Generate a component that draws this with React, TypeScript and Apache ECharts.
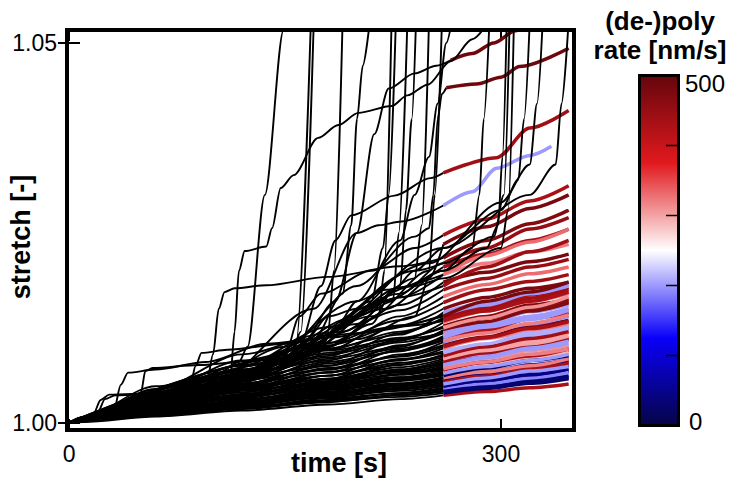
import React, { useEffect, useRef } from "react";
import * as echarts from "echarts";

// ---------- data ----------
const bundleTimes = [0, 10, 60, 120, 180, 230, 260];
const tailTimes = [260, 290, 320, 347];

const bundleStretch: number[][] = [
  [1, 1.0001, 1.0008, 1.0016, 1.0024, 1.0031, 1.0036],
  [1, 1.0002, 1.0009, 1.0020, 1.0027, 1.0037, 1.0042],
  [1, 1.0002, 1.0012, 1.0019, 1.0032, 1.0039, 1.0046],
  [1, 1.0002, 1.0010, 1.0024, 1.0033, 1.0045, 1.0050],
  [1, 1.0002, 1.0014, 1.0023, 1.0037, 1.0046, 1.0053],
  [1, 1.0003, 1.0012, 1.0028, 1.0036, 1.0050, 1.0056],
  [1, 1.0003, 1.0016, 1.0026, 1.0043, 1.0052, 1.0060],
  [1, 1.0002, 1.0013, 1.0031, 1.0041, 1.0057, 1.0063],
  [1, 1.0003, 1.0018, 1.0029, 1.0047, 1.0058, 1.0067],
  [1, 1.0003, 1.0015, 1.0035, 1.0046, 1.0064, 1.0070],
  [1, 1.0003, 1.0019, 1.0032, 1.0053, 1.0064, 1.0074],
  [1, 1.0004, 1.0017, 1.0038, 1.0050, 1.0070, 1.0078],
  [1, 1.0004, 1.0022, 1.0034, 1.0057, 1.0070, 1.0082],
  [1, 1.0003, 1.0019, 1.0042, 1.0054, 1.0077, 1.0086],
  [1, 1.0004, 1.0024, 1.0037, 1.0062, 1.0076, 1.0090],
  [1, 1.0004, 1.0020, 1.0045, 1.0058, 1.0084, 1.0094],
  [1, 1.0005, 1.0026, 1.0040, 1.0067, 1.0082, 1.0098],
  [1, 1.0004, 1.0022, 1.0048, 1.0062, 1.0090, 1.0102],
  [1, 1.0005, 1.0028, 1.0044, 1.0072, 1.0088, 1.0106],
  [1, 1.0005, 1.0024, 1.0052, 1.0066, 1.0096, 1.0110],
  [1, 1.0005, 1.0030, 1.0047, 1.0078, 1.0094, 1.0114],
  [1, 1.0005, 1.0026, 1.0056, 1.0070, 1.0102, 1.0118],
  [1, 1.0006, 1.0032, 1.0050, 1.0084, 1.0100, 1.0122],
  [1, 1.0005, 1.0028, 1.0060, 1.0075, 1.0110, 1.0127],
  [1, 1.0006, 1.0035, 1.0054, 1.0090, 1.0108, 1.0132],
  [1, 1.0006, 1.0030, 1.0064, 1.0082, 1.0118, 1.0138],
  [1, 1.0006, 1.0038, 1.0058, 1.0098, 1.0116, 1.0145],
  [1, 1.0006, 1.0033, 1.0070, 1.0088, 1.0128, 1.0150],
  [1, 1.0007, 1.0040, 1.0063, 1.0105, 1.0135, 1.0158],
  [1, 1.0006, 1.0036, 1.0076, 1.0096, 1.0140, 1.0166],
  [1, 1.0007, 1.0044, 1.0068, 1.0115, 1.0148, 1.0175],
  [1, 1.0007, 1.0040, 1.0082, 1.0105, 1.0155, 1.0185],
  [1, 1.0008, 1.0048, 1.0075, 1.0126, 1.0165, 1.0195],
  [1, 1.0007, 1.0044, 1.0090, 1.0118, 1.0178, 1.0205],
  [1, 1.0002, 1.0009, 1.0018, 1.0028, 1.0034, 1.0039],
  [1, 1.0002, 1.0011, 1.0021, 1.0030, 1.0039, 1.0044],
  [1, 1.0003, 1.0013, 1.0022, 1.0034, 1.0042, 1.0048],
  [1, 1.0002, 1.0011, 1.0025, 1.0038, 1.0048, 1.0055],
  [1, 1.0003, 1.0015, 1.0027, 1.0040, 1.0051, 1.0058],
  [1, 1.0003, 1.0014, 1.0030, 1.0045, 1.0057, 1.0065],
  [1, 1.0004, 1.0017, 1.0033, 1.0049, 1.0063, 1.0072],
  [1, 1.0003, 1.0020, 1.0036, 1.0052, 1.0068, 1.0080],
  [1, 1.0002, 1.0010, 1.0019, 1.0029, 1.0036, 1.0041],
  [1, 1.0003, 1.0012, 1.0023, 1.0035, 1.0044, 1.0051],
  [1, 1.0003, 1.0014, 1.0026, 1.0039, 1.0049, 1.0059],
  [1, 1.0003, 1.0016, 1.0029, 1.0044, 1.0055, 1.0062],
  [1, 1.0004, 1.0018, 1.0033, 1.0048, 1.0060, 1.0069],
  [1, 1.0004, 1.0020, 1.0037, 1.0055, 1.0067, 1.0076],
  [1, 1.0004, 1.0021, 1.0040, 1.0058, 1.0073, 1.0084],
  [1, 1.0004, 1.0023, 1.0043, 1.0062, 1.0079, 1.0088],
  [1, 1.0005, 1.0025, 1.0045, 1.0066, 1.0083, 1.0092],
  [1, 1.0005, 1.0027, 1.0049, 1.0070, 1.0087, 1.0100],
  [1, 1.0005, 1.0027, 1.0051, 1.0075, 1.0095, 1.0108],
  [1, 1.0006, 1.0031, 1.0055, 1.0080, 1.0098, 1.0112],
  [1, 1.0006, 1.0033, 1.0058, 1.0086, 1.0106, 1.0120],
  [1, 1.0006, 1.0034, 1.0062, 1.0092, 1.0112, 1.0125],
  [1, 1.0006, 1.0036, 1.0066, 1.0096, 1.0120, 1.0136],
  [1, 1.0007, 1.0038, 1.0070, 1.0102, 1.0128, 1.0142],
];

const bundleTail: number[][] = [
  [1.0041, 1.0046, 1.0051],
  [1.0049, 1.0056, 1.0062],
  [1.0052, 1.0060, 1.0068],
  [1.0057, 1.0066, 1.0072],
  [1.0062, 1.0068, 1.0076],
  [1.0063, 1.0074, 1.0080],
  [1.0070, 1.0077, 1.0085],
  [1.0071, 1.0083, 1.0090],
  [1.0078, 1.0086, 1.0095],
  [1.0082, 1.0090, 1.0100],
  [1.0084, 1.0095, 1.0102],
  [1.0090, 1.0099, 1.0110],
  [1.0090, 1.0101, 1.0108],
  [1.0099, 1.0108, 1.0118],
  [1.0101, 1.0116, 1.0125],
  [1.0103, 1.0115, 1.0122],
  [1.0111, 1.0120, 1.0130],
  [1.0113, 1.0127, 1.0135],
  [1.0120, 1.0130, 1.0140],
  [1.0122, 1.0137, 1.0145],
  [1.0128, 1.0140, 1.0150],
  [1.0130, 1.0146, 1.0155],
  [1.0138, 1.0150, 1.0160],
  [1.0140, 1.0155, 1.0163],
  [1.0147, 1.0160, 1.0170],
  [1.0152, 1.0168, 1.0178],
  [1.0158, 1.0170, 1.0180],
  [1.0165, 1.0177, 1.0185],
  [1.0175, 1.0186, 1.0195],
  [1.0182, 1.0196, 1.0205],
  [1.0190, 1.0205, 1.0215],
  [1.0198, 1.0212, 1.0222],
  [1.0210, 1.0225, 1.0235],
  [1.0222, 1.0240, 1.0255],
  [1.0045, 1.0052, 1.0058],
  [1.0051, 1.0059, 1.0066],
  [1.0056, 1.0063, 1.0071],
  [1.0064, 1.0071, 1.0079],
  [1.0066, 1.0076, 1.0083],
  [1.0075, 1.0085, 1.0093],
  [1.0081, 1.0089, 1.0098],
  [1.0092, 1.0103, 1.0112],
  [1.0047, 1.0053, 1.0060],
  [1.0059, 1.0068, 1.0074],
  [1.0067, 1.0075, 1.0084],
  [1.0072, 1.0082, 1.0088],
  [1.0080, 1.0088, 1.0097],
  [1.0086, 1.0097, 1.0105],
  [1.0095, 1.0104, 1.0114],
  [1.0100, 1.0111, 1.0120],
  [1.0104, 1.0118, 1.0126],
  [1.0112, 1.0124, 1.0133],
  [1.0118, 1.0131, 1.0142],
  [1.0126, 1.0136, 1.0148],
  [1.0133, 1.0147, 1.0158],
  [1.0138, 1.0152, 1.0166],
  [1.0150, 1.0164, 1.0175],
  [1.0155, 1.0170, 1.0182],
];

const bundleRate: number[] = [
  430, 20, 45, 200, 30, 420, 210, 300, 440, 190, 310, 430, 200, 300, 450, 210, 320, 480,
  195, 420, 310, 205, 440, 470, 320, 430, 200, 475, 440, 330, 450, 480, 320, 440,
  25, 190, 40, 430, 35, 290, 210, 440,
  30, 200, 320, 15, 430, 200, 300, 440, 210, 430, 320, 200, 470, 310, 440, 200,
];

// lines with steps / meanders (black part, then coloured part)
const stepLines: number[][][] = [
  [[0, 1], [12, 1.0003], [17, 1.0012], [22, 1.003], [28, 1.0037], [60, 1.0039], [100, 1.0042], [137, 1.0046], [180, 1.0052], [230, 1.006], [260, 1.0065]],
  [[0, 1], [14, 1.0003], [20, 1.0014], [25, 1.0031], [32, 1.0036], [70, 1.004], [120, 1.0047], [180, 1.0057], [230, 1.0066], [260, 1.0071]],
  [[0, 1], [20, 1.0006], [31, 1.0015], [36, 1.005], [41, 1.0066], [60, 1.007], [95, 1.008], [137, 1.0104], [180, 1.0112], [230, 1.0127], [260, 1.0134]],
  [[0, 1], [30, 1.001], [47, 1.0017], [50, 1.004], [53, 1.0068], [58, 1.0072], [90, 1.0076], [130, 1.0082], [180, 1.0095], [230, 1.011], [260, 1.0118]],
  [[0, 1], [40, 1.0015], [80, 1.004], [84, 1.0048], [88, 1.0075], [92, 1.0092], [110, 1.0096], [150, 1.0104], [200, 1.0118], [260, 1.014]],
  [[0, 1], [40, 1.0018], [80, 1.004], [96, 1.0056], [100, 1.009], [104, 1.015], [108, 1.0172], [115, 1.0177], [137, 1.0181], [180, 1.0192], [230, 1.0206], [260, 1.0217]],
  [[0, 1], [60, 1.0025], [120, 1.0055], [150, 1.0075], [165, 1.011], [180, 1.014], [200, 1.015], [230, 1.0165], [260, 1.018]],
  [[0, 1], [60, 1.0022], [130, 1.006], [170, 1.0085], [185, 1.0125], [200, 1.016], [220, 1.0175], [260, 1.0195]],
  [[0, 1], [70, 1.003], [140, 1.007], [180, 1.01], [210, 1.013], [225, 1.0175], [240, 1.02], [260, 1.021]],
  [[0, 1], [80, 1.0035], [150, 1.008], [200, 1.011], [240, 1.014], [250, 1.019], [260, 1.0235]],
  [[0, 1], [50, 1.002], [120, 1.005], [150, 1.009], [160, 1.014], [175, 1.017], [210, 1.02], [240, 1.023], [260, 1.0247]],
  [[0, 1], [60, 1.0025], [120, 1.006], [160, 1.01], [185, 1.016], [200, 1.025], [215, 1.026], [231, 1.0265], [260, 1.0286]],
  [[0, 1], [60, 1.0022], [120, 1.0055], [160, 1.01], [175, 1.018], [185, 1.024], [196, 1.0273], [226, 1.0299], [251, 1.0322], [260, 1.0329]],
  [[0, 1], [80, 1.0035], [150, 1.01], [200, 1.018], [240, 1.0245], [250, 1.0256], [253, 1.03], [256, 1.04], [259, 1.0433], [262, 1.0441]],
  [[0, 1], [100, 1.005], [170, 1.015], [200, 1.025], [212, 1.038], [222, 1.044], [240, 1.046], [255, 1.047], [265, 1.0477]],
];

const stepTails: number[][][] = [
  [[260, 1.0065], [290, 1.0074], [320, 1.0082], [347, 1.009]],
  [[260, 1.0071], [290, 1.008], [320, 1.009], [347, 1.0097]],
  [[260, 1.0134], [290, 1.0147], [320, 1.016], [347, 1.0172]],
  [[260, 1.0118], [290, 1.0128], [320, 1.014], [347, 1.015]],
  [[260, 1.014], [290, 1.016], [320, 1.0172], [347, 1.0185]],
  [[260, 1.0217], [290, 1.024], [320, 1.0262], [347, 1.028]],
  [[260, 1.018], [290, 1.0205], [320, 1.0225], [347, 1.024]],
  [[260, 1.0195], [290, 1.022], [320, 1.0238], [347, 1.0255]],
  [[260, 1.021], [290, 1.023], [320, 1.0255], [347, 1.027]],
  [[260, 1.0235], [290, 1.0258], [320, 1.0282], [347, 1.03]],
  [[260, 1.0247], [290, 1.0268], [320, 1.0292], [347, 1.0312]],
  [[260, 1.0286], [280, 1.0304], [297, 1.0335], [320, 1.0352], [335, 1.0364]],
  [[260, 1.0329], [297, 1.0349], [320, 1.0388], [347, 1.0411]],
  [[262, 1.0441], [283, 1.0446], [300, 1.0455], [313, 1.0469], [347, 1.0493]],
  [[265, 1.0477], [280, 1.0486], [295, 1.05], [310, 1.0516], [320, 1.053]],
];

const stepRate: number[] = [200, 320, 430, 200, 480, 470, 440, 330, 450, 480, 430, 200, 440, 490, 490];

// black lines that run away (leave the top of the frame)
const runawayLines: number[][][] = [
  [[0, 1], [50, 1.002], [100, 1.005], [112, 1.006], [115, 1.012], [118, 1.02], [122, 1.0226], [137, 1.0232], [141, 1.0256], [147, 1.0309], [156, 1.0326], [173, 1.0375], [187, 1.0392], [201, 1.0408], [224, 1.0417], [235, 1.0431], [249, 1.0445], [265, 1.0476], [280, 1.0505], [292, 1.053]],
  [[0, 1], [60, 1.003], [100, 1.006], [118, 1.008], [124, 1.01], [136, 1.03], [149, 1.0517], [151, 1.055]],
  [[0, 1], [60, 1.0028], [120, 1.0065], [150, 1.0095], [158, 1.011], [168, 1.053]],
  [[0, 1], [70, 1.003], [130, 1.007], [155, 1.0095], [161, 1.012], [170, 1.053]],
  [[0, 1], [80, 1.0035], [150, 1.008], [180, 1.012], [184, 1.02], [190, 1.053]],
  [[0, 1], [100, 1.0045], [170, 1.011], [190, 1.017], [196, 1.026], [200, 1.04], [204, 1.047], [209, 1.053]],
  [[0, 1], [100, 1.0045], [180, 1.01], [215, 1.014], [219, 1.02], [224, 1.053]],
  [[0, 1], [90, 1.004], [170, 1.0105], [210, 1.016], [218, 1.023], [222, 1.03], [227, 1.053]],
  [[0, 1], [110, 1.005], [190, 1.012], [225, 1.016], [229, 1.025], [235, 1.053]],
  [[0, 1], [120, 1.0055], [200, 1.013], [230, 1.018], [234, 1.028], [238, 1.04], [241, 1.053]],
  [[0, 1], [120, 1.006], [200, 1.014], [240, 1.019], [245, 1.026], [250, 1.053]],
  [[0, 1], [130, 1.006], [210, 1.014], [250, 1.02], [254, 1.03], [259, 1.053]],
  [[0, 1], [120, 1.0055], [200, 1.016], [230, 1.024], [240, 1.03], [250, 1.035], [256, 1.042], [262, 1.05], [266, 1.053]],
  [[0, 1], [130, 1.0065], [220, 1.015], [260, 1.02], [280, 1.023], [285, 1.03], [288, 1.04], [292, 1.053]],
  [[0, 1], [130, 1.007], [220, 1.016], [260, 1.02], [290, 1.023], [298, 1.026], [301, 1.035], [304, 1.053]],
  [[0, 1], [140, 1.007], [230, 1.017], [260, 1.021], [295, 1.0245], [302, 1.03], [306, 1.053]],
  [[0, 1], [150, 1.008], [240, 1.018], [260, 1.019], [300, 1.023], [305, 1.028], [309, 1.053]],
  [[0, 1], [150, 1.008], [240, 1.02], [260, 1.023], [300, 1.028], [312, 1.032], [316, 1.04], [320, 1.053]],
  [[0, 1], [150, 1.0085], [250, 1.021], [300, 1.029], [320, 1.034], [325, 1.042], [329, 1.053]],
  [[0, 1], [160, 1.009], [260, 1.023], [320, 1.03], [338, 1.034], [342, 1.042], [347, 1.053]],
];

const xTickValues = [0, 300];
const yTickValues = [1.0, 1.05];
const colorbarTicks = [100, 200, 300, 400];
const rateMin = 0;
const rateMax = 500;

// seismic-like colour map
const cmapStops: [number, number[]][] = [
  [0, [5, 5, 70]],
  [0.25, [10, 0, 250]],
  [0.5, [255, 255, 255]],
  [0.75, [225, 25, 30]],
  [1, [100, 6, 12]],
];

function cmap(f: number): string {
  const v = Math.max(0, Math.min(1, f));
  for (let i = 1; i < cmapStops.length; i++) {
    const [f1, c1] = cmapStops[i];
    const [f0, c0] = cmapStops[i - 1];
    if (v <= f1) {
      const k = (v - f0) / (f1 - f0);
      const c = c0.map((a, j) => Math.round(a + (c1[j] - a) * k));
      return `rgb(${c[0]},${c[1]},${c[2]})`;
    }
  }
  return "rgb(100,6,12)";
}
const rateColor = (r: number) => cmap((r - rateMin) / (rateMax - rateMin));

function lineSeries(data: number[][], color: string, width: number, z: number) {
  return {
    type: "line",
    data,
    showSymbol: false,
    symbol: "none",
    smooth: 0.3,
    smoothMonotone: "x",
    silent: true,
    z,
    lineStyle: { color, width },
  };
}

export default function App() {
  const ref = useRef<HTMLDivElement>(null);
  useEffect(() => {
    if (!ref.current) return;
    const chart = echarts.init(ref.current, undefined, { renderer: "svg" });
    const series: any[] = [];
    bundleStretch.forEach((row) => {
      series.push(lineSeries(row.map((s, i) => [bundleTimes[i], s]), "#000", 1.9, 2));
    });
    stepLines.forEach((pts) => series.push(lineSeries(pts, "#000", 1.9, 2)));
    bundleTail.forEach((row, k) => {
      const start = bundleStretch[k][bundleStretch[k].length - 1];
      const data = [[tailTimes[0], start], ...row.map((s, i) => [tailTimes[i + 1], s])];
      series.push(lineSeries(data, rateColor(bundleRate[k]), 3.5, 3));
    });
    stepTails.forEach((pts, k) => series.push(lineSeries(pts, rateColor(stepRate[k]), 3.5, 3)));
    runawayLines.forEach((pts) => series.push(lineSeries(pts, "#000", 1.9, 4)));

    const font = "Liberation Sans";
    const tick = { show: true, inside: true, length: 11, lineStyle: { color: "#000", width: 2 } };

    const gradStops = [1, 0.75, 0.5, 0.25, 0].map((f, i) => ({ offset: i * 0.25, color: cmap(f) }));

    const cbTop = 75.5;
    const cbBottom = 425.5;
    const cbY = (v: number) => cbBottom - ((v - rateMin) / (rateMax - rateMin)) * (cbBottom - cbTop);

    chart.setOption({
      animation: false,
      grid: { left: 67, top: 30, width: 507, height: 400, show: false },
      xAxis: [
        {
          type: "value", min: -1.4, max: 350.7, position: "bottom",
          axisLine: { show: false }, splitLine: { show: false },
          axisTick: { ...tick, customValues: xTickValues },
          axisLabel: { customValues: xTickValues, fontSize: 23, color: "#000", fontFamily: font, margin: 12, formatter: (v: number) => String(v) },
        },
        {
          type: "value", min: -1.4, max: 350.7, position: "top",
          axisLine: { show: false }, splitLine: { show: false },
          axisTick: { ...tick, customValues: xTickValues }, axisLabel: { show: false },
        },
      ],
      yAxis: [
        {
          type: "value", min: 0.99904, max: 1.05171, position: "left",
          axisLine: { show: false }, splitLine: { show: false },
          axisTick: { ...tick, customValues: yTickValues },
          axisLabel: { customValues: yTickValues, fontSize: 23, color: "#000", fontFamily: font, margin: 10, formatter: (v: number) => v.toFixed(2) },
        },
        {
          type: "value", min: 0.99904, max: 1.05171, position: "right",
          axisLine: { show: false }, splitLine: { show: false },
          axisTick: { ...tick, customValues: yTickValues }, axisLabel: { show: false },
        },
      ],
      series,
      graphic: [
        { type: "rect", z: 100, silent: true, shape: { x: 67, y: 30, width: 507, height: 400 }, style: { fill: "none", stroke: "#000", lineWidth: 4 } },
        { type: "text", x: 339, y: 463, style: { text: "time [s]", fontSize: 27, fontWeight: "bold", fontFamily: font, fill: "#000", align: "center", verticalAlign: "middle" } },
        { type: "text", x: 21, y: 237, rotation: Math.PI / 2, style: { text: "stretch [-]", fontSize: 27, fontWeight: "bold", fontFamily: font, fill: "#000", align: "center", verticalAlign: "middle" } },
        { type: "text", x: 660, y: 21, style: { text: "(de-)poly", fontSize: 26, fontWeight: "bold", fontFamily: font, fill: "#000", align: "center", verticalAlign: "middle" } },
        { type: "text", x: 660, y: 50, style: { text: "rate [nm/s]", fontSize: 26, fontWeight: "bold", fontFamily: font, fill: "#000", align: "center", verticalAlign: "middle" } },
        { type: "rect", shape: { x: 639.5, y: cbTop, width: 39, height: cbBottom - cbTop }, style: { fill: new echarts.graphic.LinearGradient(0, 0, 0, 1, gradStops), stroke: "#000", lineWidth: 3 } },
        ...colorbarTicks.map((v) => ({ type: "line", shape: { x1: 666, y1: cbY(v), x2: 678, y2: cbY(v) }, style: { stroke: "#000", lineWidth: 1.5 } })),
        { type: "text", x: 685, y: 83.5, style: { text: String(rateMax), fontSize: 24, fontFamily: font, fill: "#000", align: "left", verticalAlign: "middle" } },
        { type: "text", x: 689, y: 421, style: { text: String(rateMin), fontSize: 24, fontFamily: font, fill: "#000", align: "left", verticalAlign: "middle" } },
      ],
    });
    return () => chart.dispose();
  }, []);
  return <div ref={ref} style={{ position: "absolute", left: 0, top: 0, width: 731, height: 480 }} />;
}
